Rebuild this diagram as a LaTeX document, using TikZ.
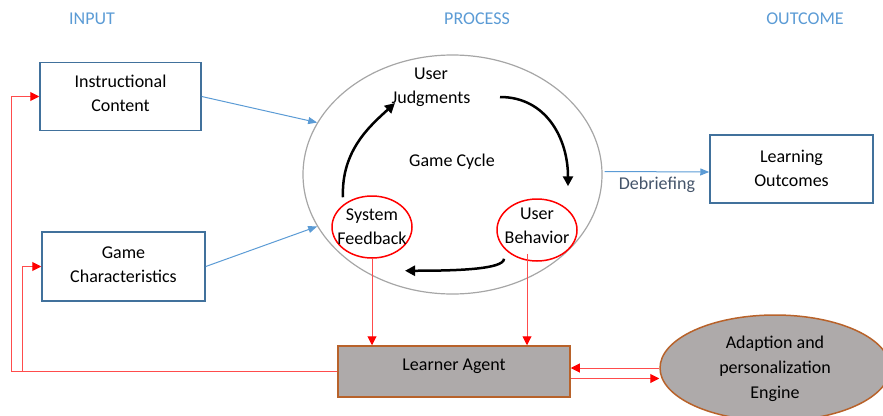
\documentclass[tikz,border=0pt]{standalone}
\usepackage{fontspec}
\setmainfont{Carlito}
\usetikzlibrary{positioning,calc,shapes.geometric,arrows.meta}
\definecolor{headblue}{RGB}{91,155,213}
\definecolor{boxblue}{RGB}{65,113,156}
\definecolor{debriefgray}{RGB}{68,84,106}
\definecolor{cyclegray}{RGB}{166,166,166}
\definecolor{agentgray}{RGB}{174,170,170}
\definecolor{agentbrown}{RGB}{184,98,42}
\begin{document}
\begin{tikzpicture}[x=1pt,y=-1pt,font=\fontsize{18}{24}\selectfont,
  inbox/.style={draw=boxblue,line width=1.5pt,align=center,inner sep=0pt},
  redcircle/.style={ellipse,draw=red,line width=1.5pt,minimum width=80,minimum height=62,inner sep=0pt},
  agent/.style={draw=agentbrown,fill=agentgray,line width=1.5pt,inner sep=0pt},
  bluearrow/.style={headblue,line width=1pt,-{Triangle[length=9pt,width=7pt]}},
  redarrow/.style={red!70,line width=1pt,-{Triangle[length=9pt,width=9pt,red]}},
  cyclearrow/.style={black,line width=2.5pt,-{Triangle[length=10pt,width=10pt]}}]
\useasboundingbox (0,0) rectangle (883,415);
% column headings
\node[headblue] (input) at (92,19) {INPUT};
\node[headblue] (process) at (477,19) {PROCESS};
\node[headblue] (outcome) at (805,19) {OUTCOME};
% input and outcome boxes
\node[inbox,minimum width=161,minimum height=68,label={[align=center,yshift=3pt]center:Instructional\\Content}] (IC) at (120.5,96.5) {};
\node[inbox,minimum width=163,minimum height=69,label={[align=center,yshift=2pt]center:Game\\Characteristics}] (GC) at (123.5,266.5) {};
\node[inbox,minimum width=163,minimum height=68,label={[align=center,yshift=1pt]center:Learning\\Outcomes}] (LO) at (791.5,169) {};
% game cycle
\node[ellipse,draw=cyclegray,line width=1.2pt,minimum width=299,minimum height=239,inner sep=0pt] (cycle) at (452.5,174.5) {};
\node (gamecycle) at (452,162) {Game Cycle};
\node[align=center] (UJ) at (431,87) {User\\Judgments};
\node[redcircle,label={[align=center]center:System\\Feedback}] (SF) at (372,227) {};
\node[redcircle,label={[align=center,yshift=4pt]center:User\\Behavior}] (UB) at (537,230) {};
\draw[cyclearrow] ($(SF.north)+(-29,2)$) .. controls ($(SF.north)+(-31,-45)$) and ($(UJ.center)+(-60,38)$) .. ($(UJ.center)+(-36,16)$);
\draw[cyclearrow] ($(UJ.center)+(69,10)$) .. controls ($(UJ.center)+(115,10)$) and ($(UB.north)+(31,-60)$) .. ($(UB.north)+(31,-12)$);
\draw[cyclearrow] ($(UB.south)+(-33,-3)$) .. controls ($(UB.south)+(-33,8)$) and ($(SF.south)+(80,12)$) .. ($(SF.south)+(33,12)$);
% agent and engine
\node[agent,minimum width=232,minimum height=51,label={[yshift=5pt]center:Learner Agent}] (LA) at (454,371.5) {};
\node[agent,ellipse,minimum width=230,minimum height=106,label={[align=center,font=\fontsize{18}{25}\selectfont,yshift=-1pt]center:Adaption and\\personalization\\Engine}] (AE) at (775,368) {};
% blue flows
\draw[bluearrow] (IC.east) -- (cycle.159);
\draw[bluearrow] (GC.east) -- (cycle.201);
\draw[bluearrow] ($(cycle.east)+(2,-3)$) -- ($(LO.west)+(0,3)$) node[midway,below=1pt,text=debriefgray] {Debriefing};
% red flows
\draw[redarrow] (SF.south) -- (SF.south |- LA.north);
\coordinate (UBdrop) at ($(UB.south)+(-10,-8)$);
\draw[redarrow] (UBdrop) -- (UBdrop |- LA.north);
\draw[redarrow] (AE.west) -- (AE.west -| LA.east);
\coordinate (LAout) at ($(LA.east)+(0,7)$);
\draw[redarrow] (LAout) -- (LAout -| AE.west);
\draw[redarrow] (LA.west) -| ($(IC.west)+(-28,0)$) -- (IC.west);
\draw[redarrow] (LA.west) -| ($(GC.west)+(-19,0)$) -- (GC.west);
\end{tikzpicture}
\end{document}
